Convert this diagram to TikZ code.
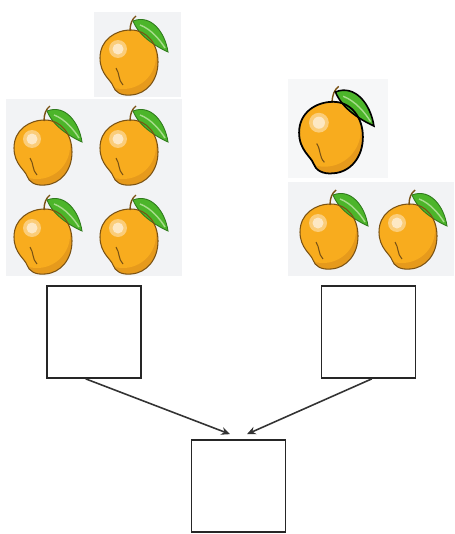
\documentclass[tikz,border=0pt]{standalone}
\usepackage{tikz}
\usepackage{xcolor}
\usetikzlibrary{
    arrows.meta,
    calc,
    positioning
}

\definecolor{tilegray}{HTML}{F2F3F5}
\definecolor{mangobody}{HTML}{F8AC1E}
\definecolor{mangoshade}{HTML}{E69A1C}
\definecolor{mangoedge}{HTML}{7A5214}
\definecolor{mangolight}{HTML}{FDE8C4}
\definecolor{leafgreen}{HTML}{4CB52A}
\definecolor{leafedge}{HTML}{2F7A1C}
\definecolor{leaflight}{HTML}{A8DC8C}

\tikzset{
    mango edge/.style={draw=mangoedge, line width=0.6pt},
    leaf edge/.style={draw=leafedge, line width=0.5pt},
    box/.style={draw=black!85, line width=1pt, minimum width=1.88cm, minimum height=1.84cm, inner sep=0pt},
    link/.style={draw=black!80, line width=0.9pt, -{Stealth[length=5pt, width=4.5pt]}},
    mango/.pic={
        \begin{scope}
            \clip (2,-32) .. controls (18,-32) and (29,-18) .. (29,0) .. controls (29,18) and (18,32) .. (2,33) .. controls (-8,34) and (-14,30) .. (-16,24) .. controls (-18,18) and (-29,12) .. (-29,-4) .. controls (-29,-22) and (-14,-32) .. (2,-32) -- cycle;
            \fill[mangoshade] (-40,-40) rectangle (40,40);
            \fill[mangobody] (-6,-6) circle (33);
        \end{scope}
        \fill[mangolight!55!mangobody] (-11,-13) circle (9);
        \fill[mangolight] (-11,-13) circle (5.5);
        \draw[mangoedge, line width=0.6pt] (-13,6) .. controls (-9,12) and (-11,18) .. (-6,23);
        \draw[mangoedge, line width=0.8pt] (1,-31) .. controls (1,-38) and (3,-43) .. (7,-46);
        \path[fill=leafgreen, leaf edge] (4,-41) .. controls (22,-48) and (36,-30) .. (39,-10) .. controls (26,-16) and (10,-26) .. (4,-41) -- cycle;
        \draw[leaflight, line width=0.8pt] (11,-37) .. controls (22,-33) and (31,-22) .. (36,-14);
        \path[mango edge] (2,-32) .. controls (18,-32) and (29,-18) .. (29,0) .. controls (29,18) and (18,32) .. (2,33) .. controls (-8,34) and (-14,30) .. (-16,24) .. controls (-18,18) and (-29,12) .. (-29,-4) .. controls (-29,-22) and (-14,-32) .. (2,-32) -- cycle;
    }
}

\begin{document}
\begin{tikzpicture}[x=0.02cm, y=-0.02cm]
    \useasboundingbox (0,0) rectangle (454,534);
    % left group
    \fill[tilegray] (94,12) rectangle (181,97);
    \fill[tilegray] (6,99) rectangle (182,276);
    \pic at (129,62) {mango};
    \pic at (43,152) {mango};
    \pic at (129,152) {mango};
    \pic at (43,241) {mango};
    \pic at (129,241) {mango};
    % right group
    \fill[tilegray!70!white] (288,79) rectangle (388,178);
    \fill[tilegray] (288,182) rectangle (454,276);
    \pic[scale=1.1, mango edge/.style={draw=black, line width=1pt}, leaf edge/.style={draw=black, line width=0.9pt}] at (331,137) {mango};
    \pic at (329,236) {mango};
    \pic at (408,236) {mango};
    % boxes
    \node[box] (lbox) at (94,332) {};
    \node[box] (rbox) at (368.5,332) {};
    \node[box] (bbox) at (238.5,486) {};
    \coordinate[above left=0.1cm and 0.17cm of bbox.north] (inl);
    \coordinate[above right=0.1cm and 0.17cm of bbox.north] (inr);
    \draw[link] (lbox.260) -- (inl);
    \draw[link] (rbox.274) -- (inr);
\end{tikzpicture}
\end{document}
